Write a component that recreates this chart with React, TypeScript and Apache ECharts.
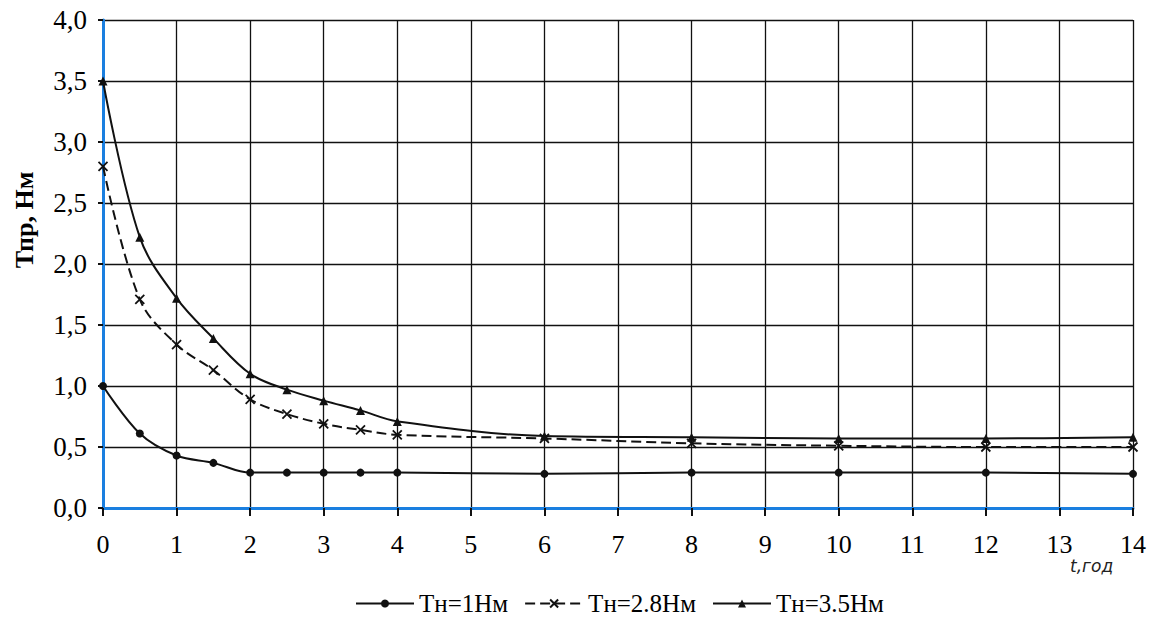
import React, { useEffect, useRef } from "react";
import * as echarts from "echarts";

const xValues = [0, 0.5, 1, 1.5, 2, 2.5, 3, 3.5, 4, 6, 8, 10, 12, 14];
const series1 = [1.0, 0.61, 0.43, 0.37, 0.29, 0.29, 0.29, 0.29, 0.29, 0.28, 0.29, 0.29, 0.29, 0.28];
const series2 = [2.8, 1.71, 1.34, 1.13, 0.89, 0.77, 0.69, 0.64, 0.6, 0.57, 0.53, 0.51, 0.5, 0.5];
const series3 = [3.5, 2.22, 1.72, 1.39, 1.1, 0.97, 0.88, 0.8, 0.71, 0.59, 0.58, 0.57, 0.57, 0.58];
const seriesNames = ["Тн=1Нм", "Тн=2.8Нм", "Тн=3.5Нм"];
const yAxisTitle = "Тпр, Нм";
const xAxisTitle = "t,год";

const FONT = "Liberation Serif";

export default function App() {
  const ref = useRef<HTMLDivElement>(null);
  useEffect(() => {
    if (!ref.current) return;
    const chart = echarts.init(ref.current, null, { renderer: "svg" });
    const pairs = (ys: number[]) => xValues.map((x, i) => [x, ys[i]]);
    const baseSeries = {
      type: "line",
      smooth: 0.35,
      lineStyle: { color: "#111", width: 2 },
    };
    chart.setOption({
      animation: false,
      backgroundColor: "#fff",
      textStyle: { fontFamily: FONT },
      grid: { left: 103, right: 18, top: 20, bottom: 117 },
      xAxis: {
        type: "value",
        min: 0,
        max: 14,
        interval: 1,
        axisLine: { show: true, lineStyle: { color: "#1a7fe0", width: 3 } },
        axisTick: { show: true, length: 8, lineStyle: { color: "#111", width: 2 } },
        axisLabel: { color: "#000", fontFamily: FONT, fontSize: 26, margin: 23 },
        splitLine: { show: true, lineStyle: { color: "#111", width: 1.3 } },
      },
      yAxis: {
        type: "value",
        min: 0,
        max: 4,
        interval: 0.5,
        axisLine: { show: true, lineStyle: { color: "#1a7fe0", width: 3 } },
        axisTick: { show: true, length: 5, lineStyle: { color: "#111", width: 2 } },
        axisLabel: {
          color: "#000",
          fontFamily: FONT,
          fontSize: 27,
          margin: 16,
          formatter: (v: number) => v.toFixed(1).replace(".", ","),
        },
        splitLine: { show: true, lineStyle: { color: "#111", width: 1.3 } },
      },
      legend: {
        bottom: 4,
        left: 350,
        itemWidth: 58,
        itemHeight: 10,
        itemGap: 16,
        textStyle: { color: "#000", fontFamily: FONT, fontSize: 25 },
        data: seriesNames,
      },
      graphic: [
        {
          type: "text",
          x: 24,
          y: 220,
          rotation: Math.PI / 2,
          style: {
            text: yAxisTitle,
            fill: "#000",
            fontFamily: FONT,
            fontWeight: "bold",
            fontSize: 26,
            align: "center",
            verticalAlign: "middle",
          },
        },
        {
          type: "text",
          x: 1070,
          y: 557,
          style: {
            text: xAxisTitle,
            fill: "#222",
            fontFamily: "DejaVu Sans",
            fontStyle: "italic",
            fontSize: 17,
          },
        },
      ],
      series: [
        {
          ...baseSeries,
          name: seriesNames[0],
          data: pairs(series1),
          symbol: "circle",
          symbolSize: 8,
          itemStyle: { color: "#111" },
        },
        {
          ...baseSeries,
          name: seriesNames[1],
          data: pairs(series2),
          symbol: "path://M0,0L10,10M10,0L0,10",
          symbolSize: 9,
          lineStyle: { color: "#111", width: 2, type: [10, 5] },
          itemStyle: { color: "#111", borderColor: "#111", borderWidth: 1.8 },
        },
        {
          ...baseSeries,
          name: seriesNames[2],
          data: pairs(series3),
          symbol: "triangle",
          symbolSize: 9,
          itemStyle: { color: "#111" },
        },
      ],
    });
    return () => chart.dispose();
  }, []);
  return (
    <div
      ref={ref}
      style={{ position: "absolute", left: 0, top: 0, width: 1151, height: 625 }}
    />
  );
}
